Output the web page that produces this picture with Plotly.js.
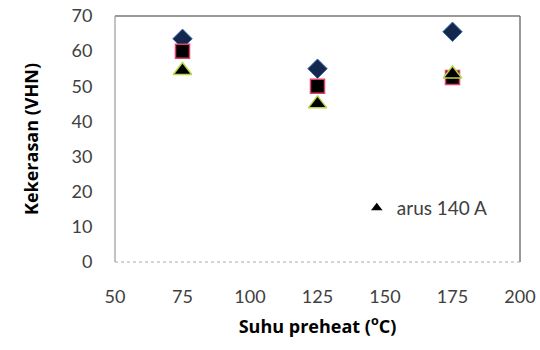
<!DOCTYPE html>
<html>
<head>
<meta charset="utf-8">
<script src="https://cdn.plot.ly/plotly-3.0.1.min.js"></script>
<style>html,body{margin:0;padding:0;background:#fff;}#chart{width:540px;height:350px;}</style>
</head>
<body>
<div id="chart"></div>
<script>
const suhu = [75, 125, 175];
const seriesDiamond = [63.5, 55, 65.5];
const seriesSquare = [60, 50, 52.5];
const seriesTriangle = [54.5, 45, 53.5];
const legendLabel = 'arus 140 A';
const xTicks = [50, 75, 100, 125, 150, 175, 200];
const yTicks = [0, 10, 20, 30, 40, 50, 60, 70];

const fontFam = 'Lato, "Open Sans", sans-serif';
const titleFam = '"Open Sans", Lato, sans-serif';

const traces = [
  {x: suhu, y: seriesDiamond, type: 'scatter', mode: 'markers', showlegend: false,
   marker: {symbol: 'diamond', size: 15, color: '#14284d', line: {color: '#3f6fb5', width: 1}}},
  {x: suhu, y: seriesSquare, type: 'scatter', mode: 'markers', showlegend: false,
   marker: {symbol: 'square', size: 14, color: '#000000', line: {color: '#e0426a', width: 1.5}}},
  {x: suhu, y: seriesTriangle, type: 'scatter', mode: 'markers', showlegend: false,
   marker: {symbol: 'triangle-up', size: 16, color: '#000000', line: {color: '#b9d44a', width: 1.5}}},
  {x: [null], y: [null], type: 'scatter', mode: 'markers', name: legendLabel, showlegend: true,
   marker: {symbol: 'triangle-up', size: 10, color: '#000000', line: {width: 0}}}
];

const layout = {
  width: 540, height: 350,
  margin: {l: 115, r: 20, t: 16, b: 88},
  paper_bgcolor: '#ffffff', plot_bgcolor: '#ffffff',
  font: {family: fontFam, size: 18, color: '#404040'},
  xaxis: {
    range: [50, 200], tickvals: xTicks, ticktext: xTicks.map(String),
    showgrid: false, zeroline: false, showline: false,
    ticks: 'outside', ticklen: 18, tickcolor: 'rgba(0,0,0,0)',
    tickfont: {family: fontFam, size: 18, color: '#404040'},
    title: {text: 'Suhu preheat (<sup>o</sup>C)', font: {family: titleFam, size: 18, color: '#000', weight: 'bold'}, standoff: 14}
  },
  yaxis: {
    range: [0, 70], tickvals: yTicks, ticktext: yTicks.map(String),
    showgrid: false, zeroline: false, showline: false,
    ticks: 'outside', ticklen: 18, tickcolor: 'rgba(0,0,0,0)',
    tickfont: {family: fontFam, size: 18, color: '#404040'},
    title: {text: 'Kekerasan (VHN)', font: {family: titleFam, size: 18, color: '#000', weight: 'bold'}, standoff: 28}
  },
  legend: {x: 0.597, y: 0.22, xanchor: 'left', yanchor: 'middle', bgcolor: 'rgba(0,0,0,0)',
    font: {family: fontFam, size: 19, color: '#404040'}, itemwidth: 30},
  shapes: [
    {type: 'line', xref: 'paper', yref: 'paper', x0: 0, x1: 1, y0: 1, y1: 1, line: {color: '#777', width: 1.5}},
    {type: 'line', xref: 'paper', yref: 'paper', x0: 1, x1: 1, y0: 0, y1: 1, line: {color: '#777', width: 1.5}},
    {type: 'line', xref: 'paper', yref: 'paper', x0: 0, x1: 0, y0: 0, y1: 1, line: {color: '#999', width: 1.2}},
    {type: 'line', xref: 'paper', yref: 'paper', x0: 0, x1: 1, y0: 0, y1: 0, line: {color: '#aaa', width: 1, dash: 'dot'}}
  ]
};

Plotly.newPlot('chart', traces, layout, {displayModeBar: false, staticPlot: true});
</script>
</body>
</html>
